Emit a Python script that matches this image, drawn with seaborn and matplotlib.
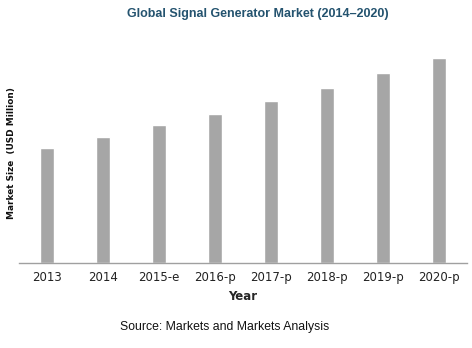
import matplotlib
matplotlib.use("Agg")
import matplotlib.pyplot as plt
import seaborn as sns
import pandas as pd

years = ["2013", "2014", "2015-e", "2016-p", "2017-p", "2018-p", "2019-p", "2020-p"]
values = [115, 126, 138, 149, 162, 175, 190, 205]

sns.set_style("white")
plt.rcParams['font.family'] = ['DejaVu Sans']

df = pd.DataFrame({"Year": years, "Value": values})
fig = plt.figure(figsize=(4.72, 3.48), dpi=100)
ax = fig.add_axes([19/472, 85/348, 448/472, 220/348])
sns.barplot(data=df, x="Year", y="Value", color="#A6A6A6", width=0.25, ax=ax, saturation=1)
ax.set_ylim(0, 220)
ax.set_xlim(-0.5, 7.5)
for s in ["top", "right", "left"]:
    ax.spines[s].set_visible(False)
ax.spines["bottom"].set_color("#A0A0A0")
ax.spines["bottom"].set_linewidth(1)
ax.set_yticks([])
ax.tick_params(axis="x", length=0, pad=6, labelsize=8.5, colors="#222222")
ax.set_xlabel("Year", fontsize=8.5, fontweight="bold", labelpad=4)
ax.set_ylabel("")
fig.text(12/472, 1 - 153/348, "Market Size  (USD Million)", rotation=90, ha="center", va="center",
         fontsize=6.4, fontweight="bold", color="#111111")
fig.text(258/472, 1 - 14/348, "Global Signal Generator Market (2014\u20132020)", ha="center", va="center",
         fontsize=9, fontweight="bold", color="#24536F", family=["Liberation Sans", "DejaVu Sans"])
fig.text(225/472, 1 - 327/348, "Source: Markets and Markets Analysis", ha="center", va="center",
         fontsize=8.8, color="#111111", family=["Liberation Sans", "DejaVu Sans"])
fig.savefig("out.png", dpi=100)
